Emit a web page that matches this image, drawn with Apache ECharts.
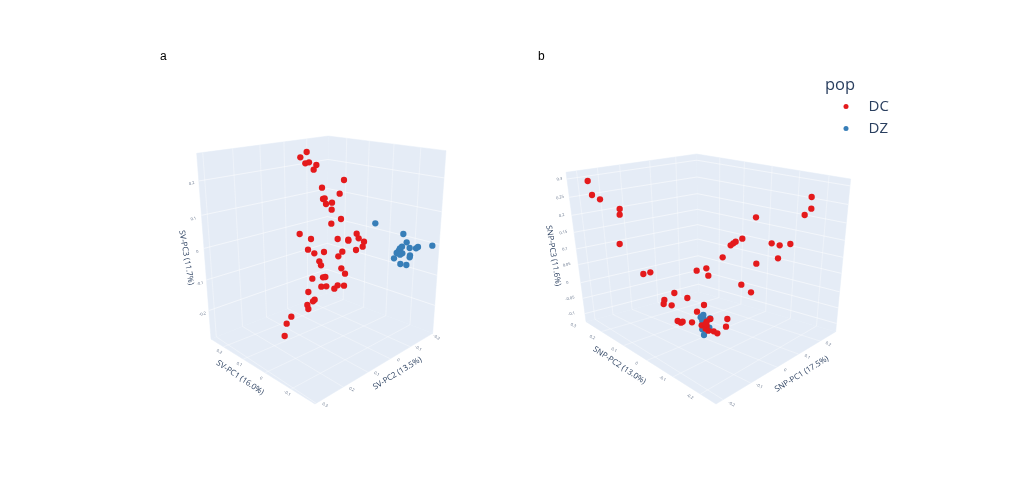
<!DOCTYPE html>
<html><head><meta charset="utf-8">
<style>html,body{margin:0;padding:0;background:#fff}#c{width:1013px;height:494px}</style>
<script src="https://cdn.jsdelivr.net/npm/echarts@6/dist/echarts.min.js"></script>
</head><body><div id="c"></div>
<script>
// Values are positions on each panel's projected view plane.
const aDC=[[470,96],[451,112],[466,130],[477,127],[499,135],[491,149],[582,180],[516,203],[569,221],[519,237],[524,235],[546,248],[528,252],[545,269],[573,297],[544,311],[449,342],[483,357],[563,357],[595,359],[595,362],[620,341],[626,355],[642,365],[638,380],[618,390],[474,389],[493,400],[522,396],[577,395],[565,409],[508,424],[513,436],[574,445],[585,461],[519,472],[526,471],[487,476],[514,500],[529,499],[563,496],[582,497],[553,506],[475,516],[494,539],[489,544],[472,555],[475,567],[424,590],[410,611],[404,648]];
const aDZ=[[676,310],[760,342],[770,367],[779,384],[756,380],[750,385],[748,390],[745,395],[740,399],[752,398],[757,400],[750,404],[732,415],[780,406],[779,412],[798,385],[804,381],[847,377],[751,432],[769,435]];
const bDC=[[173,123],[186,165],[210,178],[269,207],[269,224],[269,312],[340,402],[361,397],[845,171],[844,206],[824,225],[678,232],[637,296],[617,305],[610,310],[602,316],[725,310],[749,316],[781,312],[744,355],[578,352],[679,371],[500,392],[529,385],[535,407],[634,434],[663,457],[433,459],[472,474],[403,480],[401,492],[425,496],[522,495],[501,515],[443,543],[453,548],[458,545],[486,547],[592,537],[588,560],[541,537],[530,545],[515,556],[530,558],[527,566],[535,572],[551,574],[562,580],[527,552]];
const bDZ=[[520,525],[512,532],[517,542],[520,555],[517,568],[538,563],[522,585],[540,535],[525,550],[515,530],[522,538],[519,548]];

const aTicksZ=[['0.2',125,190],['0.1',130,296],['0',142,395],['-0.1',150,490],['-0.2',158,582]];
const aTicksX=[['0.2',208,695],['0.1',268,733],['0',333,775],['-0.1',412,820]];
const aTicksY=[['-0.2',860,652],['-0.1',805,685],['0',745,720],['0.1',680,762],['0.2',605,808],['0.3',525,855]];
const bTicksZ=[['0.3',88,117],['0.25',90,172],['0.2',95,226],['0.15',100,277],['0.1',105,327],['0.05',110,374],['0',112,428],['-0.05',120,475],['-0.1',125,521]];
const bTicksY=[['0.3',130,556],['0.2',187,592],['0.1',252,630],['0',320,670],['-0.1',398,716],['-0.2',480,770]];
const bTicksX=[['0.2',895,612],['0.1',832,650],['0',765,690],['-0.1',688,738],['-0.2',605,792]];

const aTitles=[['SV-PC1 (16.0%)',270,773,-34],['SV-PC2 (13.5%)',742,760,31.5],['SV-PC3 (11.7%)',109,413,-80]];
const bTitles=[['SNP-PC2 (13.0%)',268,676,-33.5],['SNP-PC1 (17.5%)',815,702,31.7],['SNP-PC3 (11.6%)',70,347,-81]];

// Box corners
const aBox={LT:[140,100],BT:[535,48],RT:[888,92],LB:[183,657],BB:[530,520],RB:[848,640],F:[495,852]};
const bBox={LT:[108,97],BT:[500,42],RT:[962,117],LB:[168,545],BB:[505,455],RB:[917,575],F:[558,792]};
// Gridline fractions
const aZf=[.149,.334,.512,.682,.847];
const bZf=[.045,.167,.288,.402,.513,.618,.739,.844,.946];
const aLeftWall=[.164,.337,.52,.727,.954];
const aLeftFront=[.19,.36,.55,.76,.99];
const aRightWall=[.156,.348,.558,.786];
const aRightFront=[.12,.31,.52,.77];
const bLeftWall=[.16,.36,.59,.76,.92];
const bLeftFront=[.13,.31,.49,.71,.94];
const bRightWall=[.15,.31,.49,.67,.86];
const bRightFront=[.12,.29,.47,.67,.88];

const mix=(p,q,t)=>[p[0]+(q[0]-p[0])*t,p[1]+(q[1]-p[1])*t];
function panes(B){return [
  [...B.LT,...B.BT,...B.BB,...B.LB],
  [...B.BT,...B.RT,...B.RB,...B.BB],
  [...B.LB,...B.BB,...B.RB,...B.F]];}
function segs(B,zf,lw,lf,rw,rf){
  const out=[];
  zf.forEach(t=>{
    const l=mix(B.LT,B.LB,t),b=mix(B.BT,B.BB,t),r=mix(B.RT,B.RB,t);
    out.push([...l,...b,.75],[...b,...r,.75]);
  });
  lw.forEach((t,i)=>{
    const top=mix(B.BT,B.LT,t),bot=mix(B.BB,B.LB,t),fr=mix(B.RB,B.F,lf[i]);
    out.push([...top,...bot,.5],[...bot,...fr,.5]);
  });
  rw.forEach((t,i)=>{
    const top=mix(B.BT,B.RT,t),bot=mix(B.BB,B.RB,t),fr=mix(B.LB,B.F,rf[i]);
    out.push([...top,...bot,.5],[...bot,...fr,.5]);
  });
  return out;
}
const TXT='#2a3f5f', FF='"Open Sans",sans-serif';
function paneSeries(idx,data){return {type:'custom',xAxisIndex:idx,yAxisIndex:idx,silent:true,z:1,clip:false,data,
  renderItem:(p,api)=>{const pts=[0,2,4,6].map(i=>api.coord([api.value(i),api.value(i+1)]));
    return {type:'polygon',shape:{points:pts},style:{fill:'#E5ECF6',stroke:'#E5ECF6',lineWidth:.5}};}};}
function gridSeries(idx,data){return {type:'custom',xAxisIndex:idx,yAxisIndex:idx,silent:true,z:2,clip:false,data,
  renderItem:(p,api)=>{const a=api.coord([api.value(0),api.value(1)]),b=api.coord([api.value(2),api.value(3)]);
    return {type:'line',shape:{x1:a[0],y1:a[1],x2:b[0],y2:b[1]},style:{stroke:'#fff',lineWidth:.7,opacity:api.value(4)}};}};}
function labelSeries(idx,ticks,rot,size){return {type:'scatter',xAxisIndex:idx,yAxisIndex:idx,silent:true,z:2,symbolSize:0,clip:false,
  data:ticks.map(t=>({name:t[0],value:[t[1],t[2]],label:{rotate:t.length>3?t[3]:rot}})),
  label:{show:true,position:'inside',formatter:'{b}',fontFamily:FF,fontSize:size,color:TXT,opacity:size<5?.8:1}};}
function dots(idx,name,data,color,z){return {type:'scatter',name,xAxisIndex:idx,yAxisIndex:idx,data,symbolSize:6.3,z,clip:false,
  itemStyle:{color,opacity:1}};}
const RED='#E41A1C',BLUE='#377EB8';
const ax=(max,inv,i)=>({type:'value',gridIndex:i,min:0,max,inverse:inv,show:false});
const option={
  animation:false,backgroundColor:'#fff',
  title:[
    {text:'a',left:155,top:46,textStyle:{fontFamily:'"Liberation Sans",sans-serif',fontSize:12,fontWeight:'normal',color:'#000'}},
    {text:'b',left:533,top:46,textStyle:{fontFamily:'"Liberation Sans",sans-serif',fontSize:12,fontWeight:'normal',color:'#000'}},
    {text:'pop',left:820,top:72,textStyle:{fontFamily:FF,fontSize:16.5,fontWeight:'normal',color:TXT}}
  ],
  legend:{data:['DC','DZ'],orient:'vertical',left:843.5,top:99,itemWidth:35,itemHeight:5,itemGap:7,icon:'circle',selectedMode:false,padding:0,
    textStyle:{fontFamily:FF,fontSize:15,color:TXT}},
  grid:[{left:150,top:120,width:320,height:300},{left:530,top:140,width:330,height:280}],
  xAxis:[ax(960,false,0),ax(990,false,1)],
  yAxis:[ax(900,true,0),ax(840,true,1)],
  series:[
    paneSeries(0,panes(aBox)),paneSeries(1,panes(bBox)),
    gridSeries(0,segs(aBox,aZf,aLeftWall,aLeftFront,aRightWall,aRightFront)),
    gridSeries(1,segs(bBox,bZf,bLeftWall,bLeftFront,bRightWall,bRightFront)),
    labelSeries(0,aTicksZ,15,4),labelSeries(0,aTicksX,-30,4),labelSeries(0,aTicksY,-30,4),
    labelSeries(1,bTicksZ,15,4),labelSeries(1,bTicksY,-30,4),labelSeries(1,bTicksX,-30,4),
    labelSeries(0,aTitles,0,8),labelSeries(1,bTitles,0,8),
    dots(0,'DC',aDC,RED,4),dots(0,'DZ',aDZ,BLUE,4),
    dots(1,'DZ',bDZ,BLUE,3),dots(1,'DC',bDC,RED,4)
  ]
};
echarts.init(document.getElementById('c'),null,{renderer:'canvas'}).setOption(option);
</script></body></html>
